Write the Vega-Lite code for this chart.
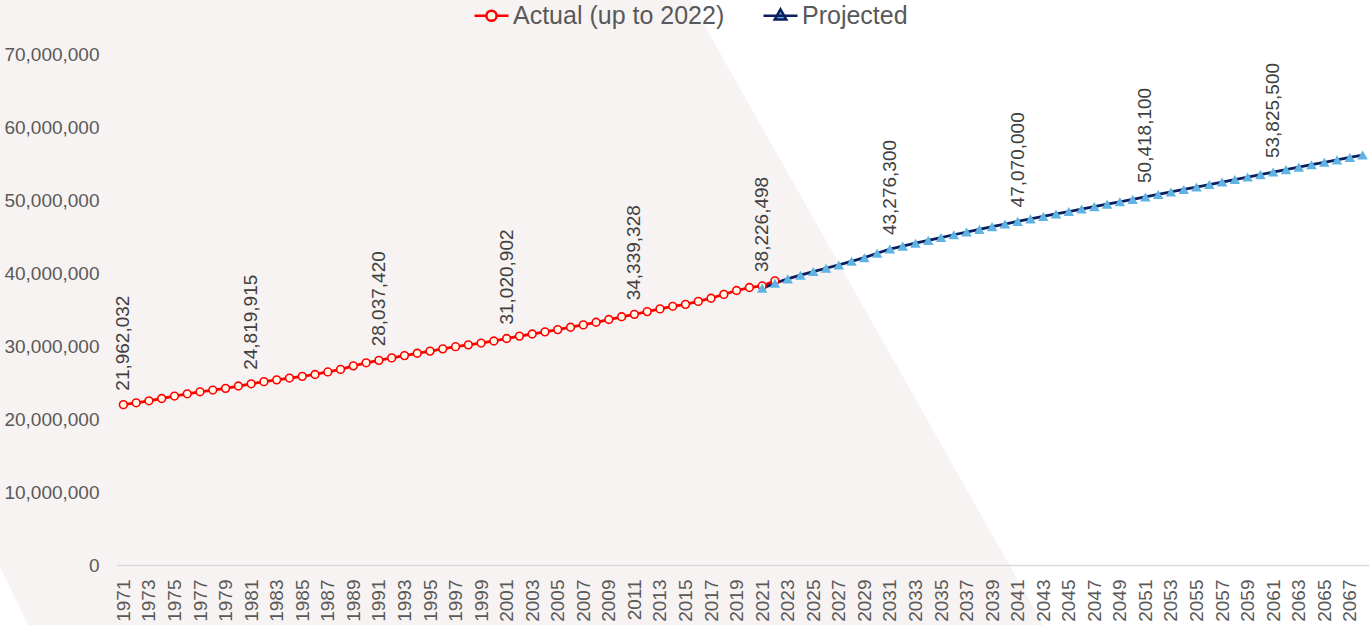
{
  "$schema": "https://vega.github.io/schema/vega-lite/v6.json",
  "autosize": {"type": "none"},
  "width": 1252,
  "height": 511,
  "padding": {"left": 117, "top": 54, "right": 0, "bottom": 60},
  "background": "#ffffff",
  "config": {
    "view": {"stroke": null},
    "font": "Liberation Sans",
    "axis": {"labelOverlap": false, "labelFlush": false, "ticks": false, "grid": false, "title": null, "labelFontSize": 19, "labelColor": "#595959"},
    "axisX": {"labelAngle": -90, "labelPadding": 14, "domainColor": "#d9d9d9", "domainWidth": 1.5},
    "axisY": {"labelPadding": 18, "domain": false}
  },
  "datasets": {
    "backdrop": [
      {"year": 1961.35, "top": 77400000, "bottom": -270000},
      {"year": 1963.54, "top": 77400000, "bottom": -8220000},
      {"year": 2015.36, "top": 77400000, "bottom": -8220000},
      {"year": 2043.0, "top": -8220000, "bottom": -8220000}
    ],
    "pop": [
      {"year": 1971, "value": 21962032, "series": "Actual (up to 2022)"},
      {"year": 1972, "value": 22218463, "series": "Actual (up to 2022)"},
      {"year": 1973, "value": 22491777, "series": "Actual (up to 2022)"},
      {"year": 1974, "value": 22807969, "series": "Actual (up to 2022)"},
      {"year": 1975, "value": 23143275, "series": "Actual (up to 2022)"},
      {"year": 1976, "value": 23449808, "series": "Actual (up to 2022)"},
      {"year": 1977, "value": 23725843, "series": "Actual (up to 2022)"},
      {"year": 1978, "value": 23963203, "series": "Actual (up to 2022)"},
      {"year": 1979, "value": 24201544, "series": "Actual (up to 2022)"},
      {"year": 1980, "value": 24515667, "series": "Actual (up to 2022)"},
      {"year": 1981, "value": 24819915, "series": "Actual (up to 2022)"},
      {"year": 1982, "value": 25116942, "series": "Actual (up to 2022)"},
      {"year": 1983, "value": 25366451, "series": "Actual (up to 2022)"},
      {"year": 1984, "value": 25607053, "series": "Actual (up to 2022)"},
      {"year": 1985, "value": 25842116, "series": "Actual (up to 2022)"},
      {"year": 1986, "value": 26100278, "series": "Actual (up to 2022)"},
      {"year": 1987, "value": 26446601, "series": "Actual (up to 2022)"},
      {"year": 1988, "value": 26791747, "series": "Actual (up to 2022)"},
      {"year": 1989, "value": 27281795, "series": "Actual (up to 2022)"},
      {"year": 1990, "value": 27697530, "series": "Actual (up to 2022)"},
      {"year": 1991, "value": 28037420, "series": "Actual (up to 2022)"},
      {"year": 1992, "value": 28371264, "series": "Actual (up to 2022)"},
      {"year": 1993, "value": 28684764, "series": "Actual (up to 2022)"},
      {"year": 1994, "value": 29000663, "series": "Actual (up to 2022)"},
      {"year": 1995, "value": 29302311, "series": "Actual (up to 2022)"},
      {"year": 1996, "value": 29610218, "series": "Actual (up to 2022)"},
      {"year": 1997, "value": 29905948, "series": "Actual (up to 2022)"},
      {"year": 1998, "value": 30155173, "series": "Actual (up to 2022)"},
      {"year": 1999, "value": 30401286, "series": "Actual (up to 2022)"},
      {"year": 2000, "value": 30685730, "series": "Actual (up to 2022)"},
      {"year": 2001, "value": 31020902, "series": "Actual (up to 2022)"},
      {"year": 2002, "value": 31360079, "series": "Actual (up to 2022)"},
      {"year": 2003, "value": 31644028, "series": "Actual (up to 2022)"},
      {"year": 2004, "value": 31940655, "series": "Actual (up to 2022)"},
      {"year": 2005, "value": 32243753, "series": "Actual (up to 2022)"},
      {"year": 2006, "value": 32571174, "series": "Actual (up to 2022)"},
      {"year": 2007, "value": 32889025, "series": "Actual (up to 2022)"},
      {"year": 2008, "value": 33247118, "series": "Actual (up to 2022)"},
      {"year": 2009, "value": 33628895, "series": "Actual (up to 2022)"},
      {"year": 2010, "value": 34004889, "series": "Actual (up to 2022)"},
      {"year": 2011, "value": 34339328, "series": "Actual (up to 2022)"},
      {"year": 2012, "value": 34714222, "series": "Actual (up to 2022)"},
      {"year": 2013, "value": 35082954, "series": "Actual (up to 2022)"},
      {"year": 2014, "value": 35437435, "series": "Actual (up to 2022)"},
      {"year": 2015, "value": 35702908, "series": "Actual (up to 2022)"},
      {"year": 2016, "value": 36109487, "series": "Actual (up to 2022)"},
      {"year": 2017, "value": 36545236, "series": "Actual (up to 2022)"},
      {"year": 2018, "value": 37065084, "series": "Actual (up to 2022)"},
      {"year": 2019, "value": 37601230, "series": "Actual (up to 2022)"},
      {"year": 2020, "value": 38007166, "series": "Actual (up to 2022)"},
      {"year": 2021, "value": 38226498, "series": "Actual (up to 2022)"},
      {"year": 2022, "value": 38929902, "series": "Actual (up to 2022)"},
      {"year": 2021, "value": 37900000, "series": "Projected"},
      {"year": 2022, "value": 38600000, "series": "Projected"},
      {"year": 2023, "value": 39200000, "series": "Projected"},
      {"year": 2024, "value": 39700000, "series": "Projected"},
      {"year": 2025, "value": 40200000, "series": "Projected"},
      {"year": 2026, "value": 40650000, "series": "Projected"},
      {"year": 2027, "value": 41100000, "series": "Projected"},
      {"year": 2028, "value": 41600000, "series": "Projected"},
      {"year": 2029, "value": 42100000, "series": "Projected"},
      {"year": 2030, "value": 42700000, "series": "Projected"},
      {"year": 2031, "value": 43276300, "series": "Projected"},
      {"year": 2032, "value": 43680000, "series": "Projected"},
      {"year": 2033, "value": 44080000, "series": "Projected"},
      {"year": 2034, "value": 44470000, "series": "Projected"},
      {"year": 2035, "value": 44860000, "series": "Projected"},
      {"year": 2036, "value": 45240000, "series": "Projected"},
      {"year": 2037, "value": 45610000, "series": "Projected"},
      {"year": 2038, "value": 45980000, "series": "Projected"},
      {"year": 2039, "value": 46350000, "series": "Projected"},
      {"year": 2040, "value": 46710000, "series": "Projected"},
      {"year": 2041, "value": 47070000, "series": "Projected"},
      {"year": 2042, "value": 47410000, "series": "Projected"},
      {"year": 2043, "value": 47750000, "series": "Projected"},
      {"year": 2044, "value": 48090000, "series": "Projected"},
      {"year": 2045, "value": 48420000, "series": "Projected"},
      {"year": 2046, "value": 48760000, "series": "Projected"},
      {"year": 2047, "value": 49090000, "series": "Projected"},
      {"year": 2048, "value": 49430000, "series": "Projected"},
      {"year": 2049, "value": 49760000, "series": "Projected"},
      {"year": 2050, "value": 50090000, "series": "Projected"},
      {"year": 2051, "value": 50418100, "series": "Projected"},
      {"year": 2052, "value": 50760000, "series": "Projected"},
      {"year": 2053, "value": 51100000, "series": "Projected"},
      {"year": 2054, "value": 51440000, "series": "Projected"},
      {"year": 2055, "value": 51780000, "series": "Projected"},
      {"year": 2056, "value": 52120000, "series": "Projected"},
      {"year": 2057, "value": 52460000, "series": "Projected"},
      {"year": 2058, "value": 52800000, "series": "Projected"},
      {"year": 2059, "value": 53140000, "series": "Projected"},
      {"year": 2060, "value": 53480000, "series": "Projected"},
      {"year": 2061, "value": 53825500, "series": "Projected"},
      {"year": 2062, "value": 54160000, "series": "Projected"},
      {"year": 2063, "value": 54500000, "series": "Projected"},
      {"year": 2064, "value": 54840000, "series": "Projected"},
      {"year": 2065, "value": 55170000, "series": "Projected"},
      {"year": 2066, "value": 55500000, "series": "Projected"},
      {"year": 2067, "value": 55830000, "series": "Projected"},
      {"year": 2068, "value": 56160000, "series": "Projected"}
    ]
  },
  "layer": [
    {
      "data": {"name": "backdrop"},
      "mark": {"type": "area", "clip": false, "color": "#f7f3f2", "interpolate": "linear"},
      "encoding": {
        "x": {
          "field": "year", "type": "quantitative",
          "scale": {"domain": [1970.5, 2068.5], "nice": false, "zero": false},
          "axis": {
            "title": null,
            "values": [1971,1973,1975,1977,1979,1981,1983,1985,1987,1989,1991,1993,1995,1997,1999,2001,2003,2005,2007,2009,2011,2013,2015,2017,2019,2021,2023,2025,2027,2029,2031,2033,2035,2037,2039,2041,2043,2045,2047,2049,2051,2053,2055,2057,2059,2061,2063,2065,2067],
            "tickCount": 200,
            "format": "d",
            "labelOverlap": false,
            "zindex": 1
          }
        },
        "y": {
          "field": "top", "type": "quantitative",
          "scale": {"domain": [0, 70000000], "nice": false, "zero": false},
          "axis": {
            "title": null,
            "values": [0, 10000000, 20000000, 30000000, 40000000, 50000000, 60000000, 70000000],
            "format": ",d",
            "zindex": 1
          }
        },
        "y2": {"field": "bottom"}
      }
    },
    {
      "data": {"name": "pop"},
      "mark": {"type": "line", "strokeWidth": 2.8},
      "encoding": {
        "x": {"field": "year", "type": "quantitative", "scale": {"domain": [1970.5, 2068.5], "nice": false, "zero": false}},
        "y": {"field": "value", "type": "quantitative", "scale": {"domain": [0, 70000000], "nice": false, "zero": false}},
        "color": {
          "field": "series", "type": "nominal",
          "scale": {"domain": ["Actual (up to 2022)", "Projected"], "range": ["#ff0000", "#0b1f5e"]},
          "legend": {
            "title": null,
            "orient": "none",
            "legendX": 356,
            "legendY": -57,
            "direction": "horizontal",
            "labelFontSize": 25,
            "labelColor": "#595959",
            "labelOffset": 3,
            "labelLimit": 400,
            "columnPadding": 33,
            "symbolType": "M-1,0L1,0",
            "symbolSize": 1156,
            "symbolStrokeWidth": 2.5,
            "encode": {
              "symbols": {
                "update": {
                  "shape": {"signal": "datum.value === 'Projected' ? 'M-1,0L1,0M0,-0.38L0.34,0.22L-0.34,0.22Z' : 'M-1,0L-0.3,0M0.3,0L1,0M0.3,0A0.3,0.3 0 1 1 -0.3,0A0.3,0.3 0 1 1 0.3,0'"},
                  "fill": {"signal": "datum.value === 'Projected' ? '#5eb3e4' : '#fffbe8'"}
                }
              }
            }
          }
        }
      }
    },
    {
      "data": {"name": "pop"},
      "transform": [{"filter": {"field": "series", "equal": "Actual (up to 2022)"}}],
      "mark": {"type": "point", "shape": "circle", "filled": true, "fill": "#fffbe8", "stroke": "#ff0000", "strokeWidth": 1.6, "size": 60, "opacity": 1},
      "encoding": {
        "x": {"field": "year", "type": "quantitative", "scale": {"domain": [1970.5, 2068.5], "nice": false, "zero": false}},
        "y": {"field": "value", "type": "quantitative", "scale": {"domain": [0, 70000000], "nice": false, "zero": false}}
      }
    },
    {
      "data": {"name": "pop"},
      "transform": [{"filter": {"field": "series", "equal": "Projected"}}],
      "mark": {"type": "point", "shape": "triangle-up", "filled": true, "color": "#5eb3e4", "size": 110, "opacity": 1},
      "encoding": {
        "x": {"field": "year", "type": "quantitative", "scale": {"domain": [1970.5, 2068.5], "nice": false, "zero": false}},
        "y": {"field": "value", "type": "quantitative", "scale": {"domain": [0, 70000000], "nice": false, "zero": false}}
      }
    },
    {
      "data": {"name": "pop"},
      "transform": [{"filter": "(datum.series === 'Actual (up to 2022)' && indexof([1971,1981,1991,2001,2011,2021], datum.year) >= 0) || (datum.series === 'Projected' && indexof([2031,2041,2051,2061], datum.year) >= 0)"}],
      "mark": {"type": "text", "angle": -90, "align": "left", "baseline": "middle", "dx": 14, "fontSize": 19, "color": "#404040"},
      "encoding": {
        "x": {"field": "year", "type": "quantitative", "scale": {"domain": [1970.5, 2068.5], "nice": false, "zero": false}},
        "y": {"field": "value", "type": "quantitative", "scale": {"domain": [0, 70000000], "nice": false, "zero": false}},
        "text": {"field": "value", "type": "quantitative", "format": ",d"}
      }
    }
  ]
}
